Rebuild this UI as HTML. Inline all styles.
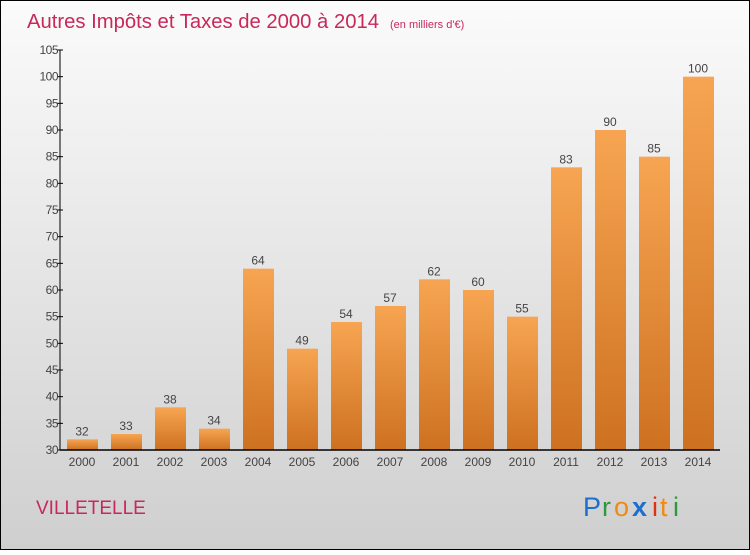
<!DOCTYPE html>
<html><head><meta charset="utf-8">
<style>
html,body{margin:0;padding:0;}
body{width:750px;height:550px;overflow:hidden;font-family:"Liberation Sans",sans-serif;}
</style></head>
<body>
<svg id="chart" width="750" height="550" xmlns="http://www.w3.org/2000/svg">
<defs>
<linearGradient id="bg" x1="0" y1="0" x2="0" y2="1">
<stop offset="0" stop-color="#fbfbfb"/><stop offset="1" stop-color="#cfcfcf"/>
</linearGradient>
<linearGradient id="bar" x1="0" y1="0" x2="0" y2="1">
<stop offset="0" stop-color="#f7a552"/><stop offset="1" stop-color="#cd7120"/>
</linearGradient>
</defs>
<rect x="0.5" y="0.5" width="749" height="549" fill="url(#bg)" stroke="#000"/>
<text x="27" y="28" font-size="20" fill="#c8285a" textLength="352" lengthAdjust="spacingAndGlyphs">Autres Impôts et Taxes de 2000 à 2014</text>
<text x="390" y="28" font-size="11" fill="#c8285a">(en milliers d'€)</text>
<g id="bars"></g>
<g id="axes"></g>
<text x="36" y="514" font-size="19" fill="#c8285a">VILLETELLE</text>
<g font-size="27" font-family="'Liberation Sans',sans-serif">
<text x="583" y="516" fill="#1a6fd0">P</text><text x="602" y="516" fill="#2a9a3a">r</text><text x="614" y="516" fill="#f08a10">o</text><text x="632" y="516" fill="#1a6fd0" font-weight="bold">x</text><text x="652" y="516" fill="#e03010">i</text><text x="660" y="516" fill="#f08a10">t</text><text x="673" y="516" fill="#2a9a3a">i</text>
</g>
</svg>
<script>
const categories=["2000","2001","2002","2003","2004","2005","2006","2007","2008","2009","2010","2011","2012","2013","2014"];
const values=[32,33,38,34,64,49,54,57,62,60,55,83,90,85,100];
const yTicks=[30,35,40,45,50,55,60,65,70,75,80,85,90,95,100,105];
const NS="http://www.w3.org/2000/svg";
const x0=60,x1=720,yBase=450,yMin=30,yMax=105,yTop=50;
const bw=(x1-x0)/categories.length;
function y(v){return yBase-(v-yMin)*(yBase-yTop)/(yMax-yMin);}
function x(i){return x0+i*bw;}
function mk(t,a,p){const e=document.createElementNS(NS,t);for(const k in a)e.setAttribute(k,a[k]);p.appendChild(e);return e;}
const gb=document.getElementById('bars'),ga=document.getElementById('axes');
values.forEach((v,i)=>{
 const r=mk('rect',{x:x(i)+7,y:y(v),width:bw-13,height:yBase-y(v),fill:'url(#bar)'},gb);
 
 
 const t=mk('text',{x:x(i)+bw/2,y:y(v)-4,'text-anchor':'middle','font-size':12,fill:'#444'},gb);
 t.textContent=v;
 
 
 const c=mk('text',{x:x(i)+bw/2,y:466,'text-anchor':'middle','font-size':12,fill:'#444'},ga);
 c.textContent=categories[i];
 
 
});
const ax=mk('line',{x1:x0,y1:yTop,x2:x0,y2:yBase,stroke:'#000','stroke-width':1},ga);


const bx=mk('line',{x1:x0,y1:yBase,x2:x1,y2:yBase,stroke:'#000','stroke-width':1.5},ga);


yTicks.forEach(v=>{
 mk('line',{x1:x0-3,y1:y(v),x2:x0+3,y2:y(v),stroke:'#000'},ga);
 const t=mk('text',{x:x0-2,y:y(v)+4,'text-anchor':'end','font-size':12,fill:'#444','letter-spacing':'-0.5'},ga);
 t.textContent=v;
 
 
});
</script>
</body></html>
